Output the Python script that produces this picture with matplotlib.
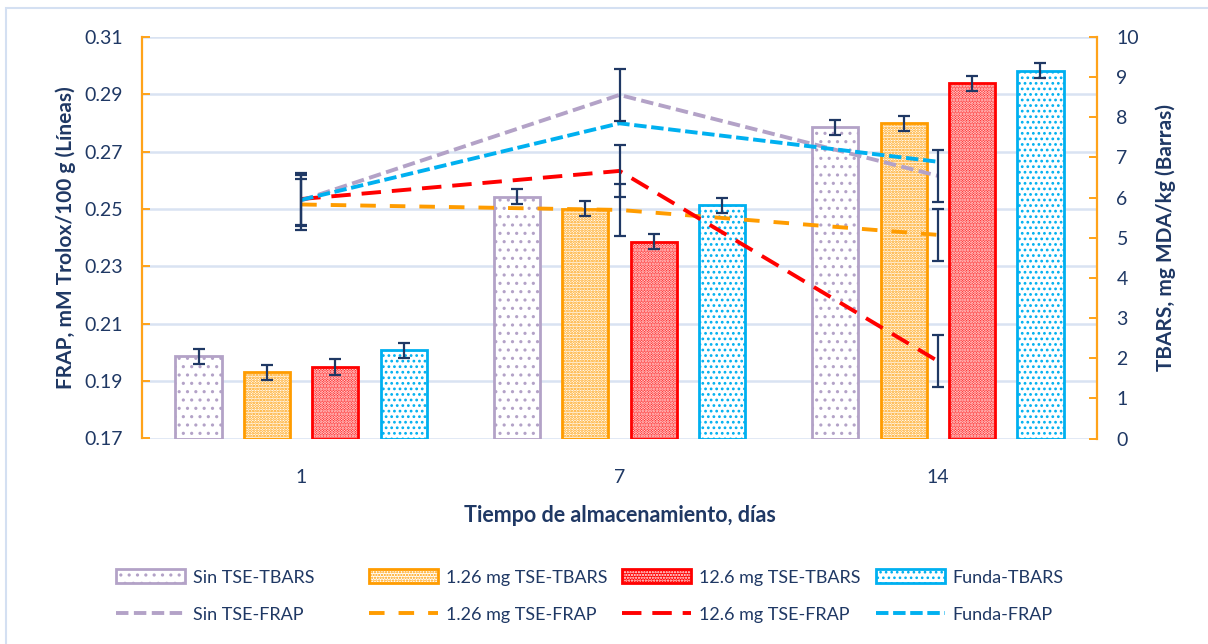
import numpy as np
import matplotlib
matplotlib.use("Agg")
import matplotlib.pyplot as plt
from matplotlib.patches import Rectangle
from matplotlib.legend_handler import HandlerTuple

plt.rcParams["font.family"] = ["Lato", "DejaVu Sans"]
plt.rcParams["hatch.linewidth"] = 1.1

# storage time (days)
dias = ["1", "7", "14"]

# TBARS, mg MDA/kg (bars, right axis)
tbars_sin = [2.05, 6.02, 7.75]
tbars_126 = [1.65, 5.72, 7.85]
tbars_126_12 = [1.78, 4.90, 8.85]
tbars_funda = [2.20, 5.81, 9.16]
tbars_err = [0.19, 0.19, 0.19]

# FRAP, mM Trolox/100 g (lines, left axis)
frap_sin = [0.2530, 0.2898, 0.2616]
frap_126 = [0.2516, 0.2497, 0.2410]
frap_126_12 = [0.2535, 0.2633, 0.1970]
frap_funda = [0.2532, 0.2799, 0.2665]
frap_err = [0.0090, 0.0090, 0.0090]

navy = "#1F3864"
lav = "#B3A2C7"
orange = "#FF9C00"
red = "#FF0000"
cyan = "#00B0F0"
axis_orange = "#FFA31A"
grid_col = "#D9E3F2"

fig = plt.figure(figsize=(12.08, 6.44), dpi=100)
fig.patches.append(Rectangle((6 / 1208, -0.01), 1.1, 1 - 8 / 644 + 0.01,
                             transform=fig.transFigure, fill=False,
                             edgecolor="#D4E0F2", lw=1.5))

ax = fig.add_axes([142 / 1208, 1 - 438.5 / 644, (1097 - 142) / 1208, (438.5 - 37) / 644])
ax2 = ax.twinx()

x = np.arange(len(dias))
w = 0.145
step = 0.215

# bars: (label, values, face, hatch colour, edge, hatch, hatch width)
bar_specs = [
    ("Sin TSE-TBARS", tbars_sin, "white", lav, lav, "..", 1.1),
    ("1.26 mg TSE-TBARS", tbars_126, "white", orange, orange, "......", 1.3),
    ("12.6 mg TSE-TBARS", tbars_126_12, red, "white", red, "......", 1.5),
    ("Funda-TBARS", tbars_funda, "white", cyan, cyan, "...", 1.2),
]

bar_handles = []
for i, (lab, vals, fc, hc, ec, hatch, hlw) in enumerate(bar_specs):
    pos = x + (i - 1.5) * step
    with plt.rc_context({"hatch.linewidth": hlw}):
        b1 = ax.bar(pos, vals, w, color=fc, edgecolor=hc, hatch=hatch, lw=0, zorder=2)
    b2 = ax.bar(pos, vals, w, facecolor="none", edgecolor=ec, lw=2, zorder=3)
    ax.errorbar(pos, vals, yerr=tbars_err, fmt="none", ecolor=navy,
                elinewidth=1.6, capsize=4.5, capthick=1.6, zorder=4)
    bar_handles.append((b1.patches[0], b2.patches[0]))

# left-axis gridlines, drawn behind the bars
for g in np.linspace(0, 10, 8):
    ax.axhline(g, color=grid_col, lw=1.8, zorder=0)

line_specs = [
    ("Sin TSE-FRAP", frap_sin, lav, (3.2, 1.4), True),
    ("1.26 mg TSE-FRAP", frap_126, orange, (4.0, 3.6), True),
    ("12.6 mg TSE-FRAP", frap_126_12, red, (5.0, 2.8), True),
    ("Funda-FRAP", frap_funda, cyan, (3.2, 1.2), False),
]
line_handles = []
for lab, vals, col, dash, with_err in line_specs:
    ln, = ax2.plot(x, vals, color=col, lw=2.8, dashes=dash, zorder=3)
    if with_err:
        ax2.errorbar(x, vals, yerr=frap_err, fmt="none", ecolor=navy,
                     elinewidth=1.6, capsize=4.5, capthick=1.6, zorder=4)
    line_handles.append(ln)

ax.set_xlim(-0.5, 2.5)
ax.set_ylim(0, 10)
ax.set_yticks(range(0, 11))
ax2.set_ylim(0.17, 0.31)
ax2.set_yticks(np.arange(0.17, 0.3101, 0.02))
ax2.set_yticklabels([f"{v:.2f}" for v in np.arange(0.17, 0.3101, 0.02)])
ax.set_xticks(x)
ax.set_xticklabels(dias)

# bar axis on the right, line axis on the left
ax.yaxis.tick_right()
ax.yaxis.set_label_position("right")
ax2.yaxis.tick_left()
ax2.yaxis.set_label_position("left")

for a in (ax, ax2):
    for s in a.spines.values():
        s.set_visible(False)
ax2.spines["left"].set_visible(True)
ax2.spines["left"].set_color(axis_orange)
ax2.spines["left"].set_linewidth(1.6)
ax.spines["right"].set_visible(True)
ax.spines["right"].set_color(axis_orange)
ax.spines["right"].set_linewidth(1.6)

ax.tick_params(axis="y", direction="in", length=6, width=1.4, color=axis_orange,
               labelcolor=navy, labelsize=14, pad=14)
ax2.tick_params(axis="y", direction="in", length=6, width=1.4, color=axis_orange,
                labelcolor=navy, labelsize=14, pad=14)
ax.tick_params(axis="x", length=0, labelcolor=navy, labelsize=14, pad=22)

ax2.set_ylabel("FRAP, mM Trolox/100 g (Líneas)", color=navy, fontsize=15,
               fontweight="bold", labelpad=6)
ax.set_ylabel("TBARS, mg MDA/kg (Barras)", color=navy, fontsize=15,
              fontweight="bold", labelpad=12)
ax.set_xlabel("Tiempo de almacenamiento, días", color=navy, fontsize=15.5,
              fontweight="bold", labelpad=14)

# four legend columns, each with a TBARS row and a FRAP row
col_x = [116, 369, 622, 876]
for i in range(4):
    leg = fig.legend([bar_handles[i], line_handles[i]],
                     [bar_specs[i][0], line_specs[i][0]],
                     handler_map={tuple: HandlerTuple(ndivide=1)},
                     loc="center left", bbox_to_anchor=(col_x[i] / 1208, 1 - 596 / 644),
                     frameon=False, fontsize=13, handlelength=3.8, handleheight=0.8,
                     handletextpad=0.45, labelspacing=1.15, borderpad=0,
                     borderaxespad=0)
    for t in leg.get_texts():
        t.set_color(navy)

fig.savefig("out.png", dpi=100, facecolor="white")
